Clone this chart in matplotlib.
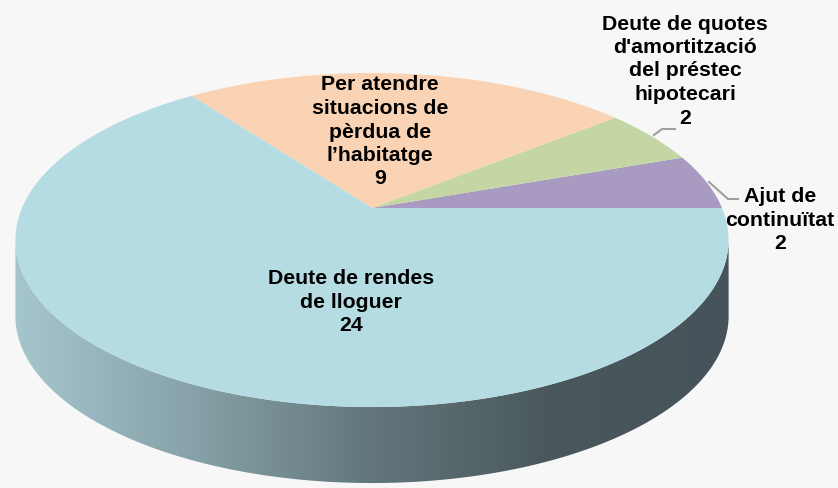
import numpy as np
import matplotlib
matplotlib.use('Agg')
import matplotlib.pyplot as plt
from matplotlib.patches import Polygon
from matplotlib.colors import LinearSegmentedColormap

# dades del gràfic
categories = ["Ajut de\ncontinuïtat", "Deute de quotes\nd'amortització\ndel préstec\nhipotecari",
              "Per atendre\nsituacions de\npèrdua de\nl’habitatge", "Deute de rendes\nde lloguer"]
values = [2, 2, 9, 24]
colors = ['#a99ac1', '#c3d6a3', '#f9d3b3', '#b5dbe3']

# geometria del pastís 3D (píxels)
W, H = 838, 488
CX, CY = 372, 208
A, B, P = 350, 160.9, 0.1916
DEPTH = 76


def proj(theta_deg, dz=0.0):
    t = np.radians(theta_deg)
    x, y = np.cos(t), np.sin(t)
    d = 1 + P * y
    return CX + A * x / d, CY - B * y / d + dz


fig = plt.figure(figsize=(W / 100, H / 100), dpi=100, facecolor='#f7f7f7')
ax = fig.add_axes([0, 0, 1, 1])
ax.set_xlim(0, W)
ax.set_ylim(H, 0)
ax.axis('off')
ax.set_facecolor('#f7f7f7')

# cara lateral
th = np.linspace(160, 380, 1200)
sx, sy = proj(th)
i0, i1 = np.argmin(sx), np.argmax(sx)
arc = th[i0:i1 + 1]
tx, ty = proj(arc)
bx, by = proj(arc[::-1], DEPTH)
side_pts = np.column_stack([np.concatenate([tx, bx]), np.concatenate([ty, by])])
side = Polygon(side_pts, closed=True, facecolor='none', edgecolor='none')
ax.add_patch(side)
cmap = LinearSegmentedColormap.from_list('side', ['#a6c6ce', '#86a2a8', '#62767b', '#4a585c', '#46535a'])
grad = np.linspace(0, 1, 256).reshape(1, -1)
img = ax.imshow(grad, extent=[tx.min(), tx.max(), by.max() + 2, ty.min()], aspect='auto',
                cmap=cmap, zorder=1)
img.set_clip_path(side)

# cara superior
total = sum(values)
start = 0.0
for v, c in zip(values, colors):
    end = start + 360.0 * v / total
    t = np.linspace(start, end, 200)
    px, py = proj(t)
    pts = np.column_stack([np.concatenate([[CX], px]), np.concatenate([[CY], py])])
    ax.add_patch(Polygon(pts, closed=True, facecolor=c, edgecolor='none', zorder=2))
    start = end

# etiquetes
txt = dict(ha='center', va='center', fontsize=15.3, fontweight='bold',
           family='Liberation Sans', linespacing=1.3, color='black', zorder=5)
label_pos = [(780, 220), (685, 71), (380, 132), (351, 302)]
for lab, v, (x, y) in zip(categories, values, label_pos):
    ax.text(x, y, f"{lab}\n{v}", **txt)

# línies guia
ax.plot([654, 662, 675], [135, 129, 129], color='#a0a0a0', lw=1.5, zorder=4)
ax.plot([709, 728, 738], [182, 199, 199], color='#a0a0a0', lw=1.5, zorder=4)

fig.savefig('out.png', dpi=100, facecolor=fig.get_facecolor())
